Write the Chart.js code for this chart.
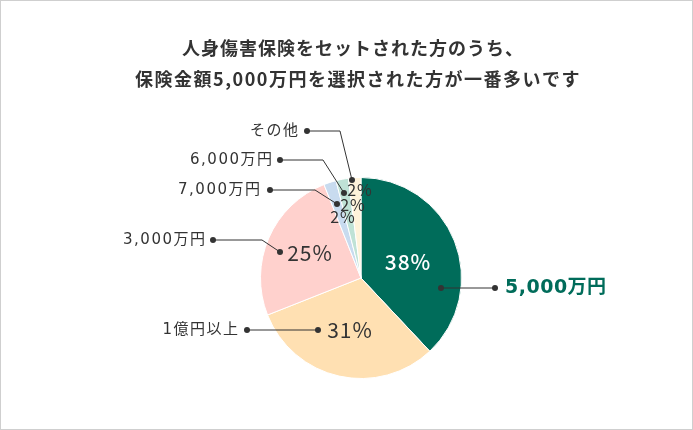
<!DOCTYPE html>
<html>
<head>
<meta charset="utf-8">
<script src="https://cdn.jsdelivr.net/npm/chart.js@4.4.0/dist/chart.umd.min.js"></script>
<style>
  body { margin: 0; background: #fff; }
  #wrap { position: relative; width: 693px; height: 430px; }
</style>
</head>
<body>
<div id="wrap"><canvas id="pie" width="693" height="430"></canvas></div>
<script>
// data, clockwise from 12 o'clock
const categories = ['5,000万円', '1億円以上', '3,000万円', '7,000万円', '6,000万円', 'その他'];
const shares = [38, 31, 25, 2, 2, 2];
const sliceColors = ['#006c5a', '#ffe0b2', '#ffd1cd', '#c8dbef', '#bfe2d6', '#fff3da'];
const titleLines = ['人身傷害保険をセットされた方のうち、', '保険金額5,000万円を選択された方が一番多いです'];

const FONT = '"Noto Sans CJK JP", "Noto Sans", sans-serif';
const WIDE = '"DejaVu Sans", "Noto Sans CJK JP", sans-serif'; // wide digits for the labels
const ink = '#333';

// label placement, offsets from the pie centre
const pctPos = [[47, -16], [-11, 52], [-51, -25], [-18, -61], [-8, -73], [-1, -88]];
const leaders = [
  { dot: [80, 10], bend: null, end: [134, 10], textX: 144 },
  { dot: [-43, 52], bend: null, end: [-114, 52], textX: -123 },
  { dot: [-81, -26], bend: [-99, -38], end: [-148, -38], textX: -156 },
  { dot: [-24, -74], bend: [-46, -88], end: [-91, -88], textX: -101 },
  { dot: [-17, -85], bend: [-38, -118], end: [-81, -118], textX: -89 },
  { dot: [-9, -98], bend: [-21, -147], end: [-54, -147], textX: -63 }
];

function dot(ctx, x, y) {
  ctx.beginPath();
  ctx.arc(x, y, 3, 0, Math.PI * 2);
  ctx.fill();
}

const labelPlugin = {
  id: 'labels',
  afterDraw(chart) {
    const ctx = chart.ctx;
    const arcs = chart.getDatasetMeta(0).data;
    const cx = arcs[0].x, cy = arcs[0].y;
    ctx.save();

    // frame
    ctx.strokeStyle = '#cfcfcf';
    ctx.lineWidth = 1;
    ctx.strokeRect(0.5, 0.5, chart.width - 1, chart.height - 1);

    // title
    ctx.fillStyle = ink;
    ctx.textAlign = 'center';
    ctx.textBaseline = 'middle';
    ctx.font = 'bold 18px ' + FONT;
    ctx.letterSpacing = '1px';
    ctx.fillText(titleLines[0], 353, 48);
    ctx.letterSpacing = '1.5px';
    ctx.fillText(titleLines[1], 358, 79);

    // leader lines + category names
    ctx.strokeStyle = ink;
    ctx.fillStyle = ink;
    leaders.forEach((l, i) => {
      const pts = [l.dot, l.bend, l.end].filter(Boolean);
      ctx.beginPath();
      pts.forEach((p, k) => {
        if (k === 0) ctx.moveTo(cx + p[0], cy + p[1]);
        else ctx.lineTo(cx + p[0], cy + p[1]);
      });
      ctx.stroke();
      dot(ctx, cx + l.dot[0], cy + l.dot[1]);
      dot(ctx, cx + l.end[0], cy + l.end[1]);

      ctx.textBaseline = 'middle';
      if (i === 0) {
        ctx.textAlign = 'left';
        ctx.font = 'bold 19px ' + WIDE;
        ctx.letterSpacing = '0.5px';
        ctx.fillStyle = sliceColors[0];
        ctx.fillText(categories[i], cx + l.textX, cy + l.end[1]);
      } else {
        ctx.textAlign = 'right';
        ctx.font = '15px ' + WIDE;
        ctx.letterSpacing = '1.5px';
        ctx.fillStyle = ink;
        ctx.fillText(categories[i], cx + l.textX + 1.5, cy + l.end[1]);
      }
      ctx.fillStyle = ink;
    });

    // percentages
    ctx.textAlign = 'center';
    ctx.letterSpacing = '1px';
    shares.forEach((v, i) => {
      const p = pctPos[i];
      if (i === 0) {
        ctx.fillStyle = '#fff';
        ctx.font = '500 21px ' + FONT;
      } else if (v >= 10) {
        ctx.fillStyle = ink;
        ctx.font = '21px ' + FONT;
      } else {
        ctx.fillStyle = ink;
        ctx.font = '16px ' + FONT;
      }
      ctx.fillText(v + '%', cx + p[0], cy + p[1]);
    });
    ctx.restore();
  }
};

new Chart(document.getElementById('pie'), {
  type: 'pie',
  data: {
    labels: categories,
    datasets: [{
      data: shares,
      backgroundColor: sliceColors,
      borderColor: '#fff',
      borderWidth: 1
    }]
  },
  options: {
    responsive: false,
    animation: false,
    events: [],
    layout: { padding: { top: 177, bottom: 51, left: 260, right: 231 } },
    plugins: { legend: { display: false }, tooltip: { enabled: false } }
  },
  plugins: [labelPlugin]
});
</script>
</body>
</html>
